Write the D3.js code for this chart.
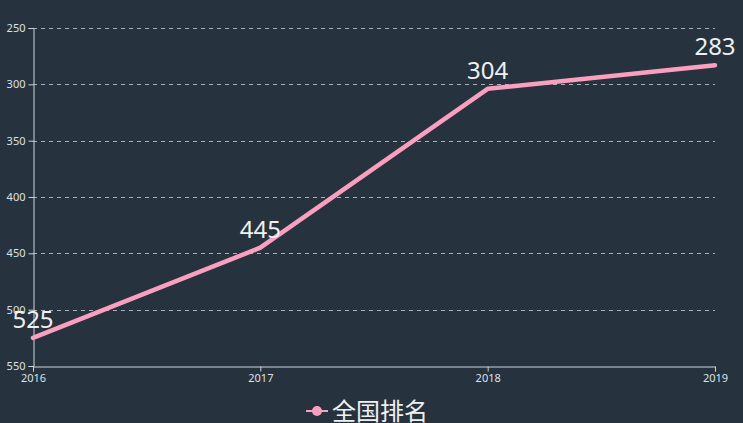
<!DOCTYPE html>
<html>
<head>
  <meta charset="utf-8">
  <title>全国排名</title>
  <script src="https://d3js.org/d3.v7.min.js"></script>
  <style>
    html, body {
      margin: 0;
      padding: 0;
      background: #27323f;
      overflow: hidden;
    }
    body {
      font-family: "Noto Sans CJK SC", "Noto Sans", sans-serif;
    }
  </style>
</head>
<body>
  <div id="chart"></div>

  <script>
    // chart data
    let years = ['2016', '2017', '2018', '2019'];
    let ranks = [525, 445, 304, 283];
    let yTicks = [250, 300, 350, 400, 450, 500, 550];
    let seriesName = '全国排名';

    let width = 743;
    let height = 423;
    let margin = { top: 28, right: 28, bottom: 57, left: 33 };
    let innerW = width - margin.left - margin.right;
    let innerH = height - margin.top - margin.bottom;
    let lineColor = '#fa9fbe';
    let axisColor = '#cfd3d8';

    let svg = d3.select('#chart')
      .append('svg')
      .attr('width', width)
      .attr('height', height);

    let g = svg.append('g')
      .attr('transform', 'translate(' + margin.left + ',' + margin.top + ')');

    let x = d3.scalePoint()
      .domain(years)
      .range([0, innerW]);

    // inverted: best rank at the top
    let y = d3.scaleLinear()
      .domain([250, 550])
      .range([0, innerH]);

    // dashed grid lines
    g.selectAll('.grid')
      .data(yTicks.slice(0, -1))
      .enter()
      .append('line')
      .attr('class', 'grid')
      .attr('x1', 0)
      .attr('x2', innerW)
      .attr('y1', d => Math.round(y(d)) + 0.5)
      .attr('y2', d => Math.round(y(d)) + 0.5)
      .attr('stroke', '#aab0b8')
      .attr('stroke-width', 1)
      .attr('stroke-dasharray', '4,4');

    let yAxis = g.append('g')
      .attr('transform', 'translate(0.5,0)')
      .call(d3.axisLeft(y).tickValues(yTicks).tickSize(5).tickPadding(3));

    let xAxis = g.append('g')
      .attr('transform', 'translate(0,' + (innerH + 0.5) + ')')
      .call(d3.axisBottom(x).tickSize(5).tickPadding(3));

    [yAxis, xAxis].forEach(a => {
      a.select('.domain').attr('stroke', axisColor);
      a.selectAll('.tick line').attr('stroke', axisColor);
      a.selectAll('.tick text')
        .attr('fill', '#dde1e5')
        .style('font-size', '11px')
        .style('font-family', '"Noto Sans", sans-serif');
    });

    let line = d3.line()
      .x((d, i) => x(years[i]))
      .y(d => y(d));

    g.append('path')
      .datum(ranks)
      .attr('d', line)
      .attr('fill', 'none')
      .attr('stroke', lineColor)
      .attr('stroke-width', 4.5)
      .attr('stroke-linejoin', 'round')
      .attr('stroke-linecap', 'round');

    g.selectAll('.label')
      .data(ranks)
      .enter()
      .append('text')
      .attr('class', 'label')
      .attr('x', (d, i) => x(years[i]))
      .attr('y', d => y(d) - 10)
      .attr('text-anchor', 'middle')
      .attr('fill', '#eef0f2')
      .style('font-size', '24px')
      .style('font-family', '"Noto Sans", sans-serif')
      .text(d => d);

    // legend
    let legend = svg.append('g')
      .attr('transform', 'translate(306,411)');

    legend.append('line')
      .attr('x1', 0)
      .attr('x2', 22)
      .attr('y1', 0)
      .attr('y2', 0)
      .attr('stroke', lineColor)
      .attr('stroke-width', 2);

    legend.append('circle')
      .attr('cx', 11)
      .attr('cy', 0)
      .attr('r', 5)
      .attr('fill', lineColor);

    legend.append('text')
      .attr('x', 26)
      .attr('y', 9)
      .attr('fill', '#eef0f2')
      .style('font-size', '24px')
      .text(seriesName);
  </script>
</body>
</html>
